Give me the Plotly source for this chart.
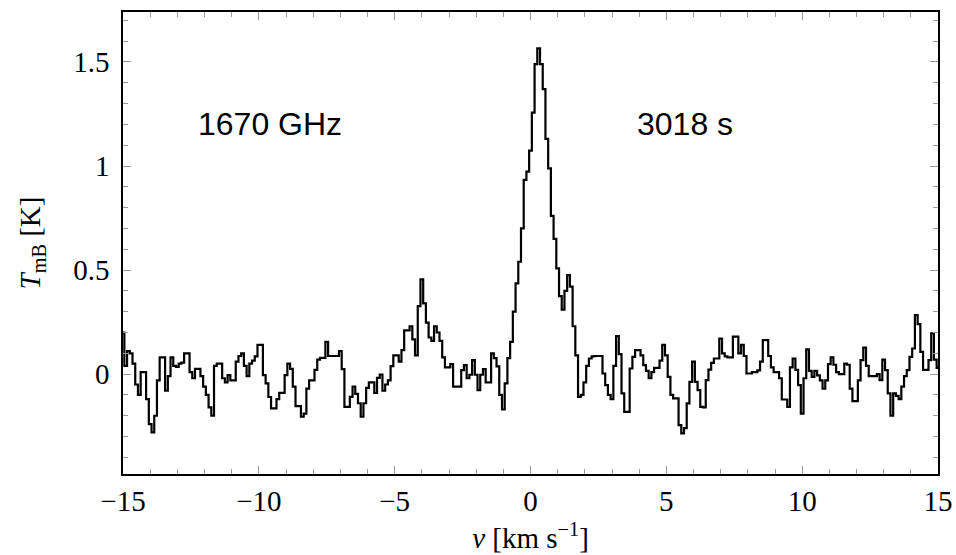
import numpy as np
import plotly.graph_objects as go

# Channel temperatures (K), 0.1 km/s channels from -15.0 to 15.0 km/s
seg_a = [0.20, 0.04, 0.11, 0.10, 0.05, -0.05, -0.10, 0.01, 0.01, -0.12,
         -0.24, -0.28, -0.20, -0.03, 0.08, 0.08, -0.08, -0.01, 0.08, 0.04,
         0.035, 0.05, 0.055, 0.10, 0.10, 0.01, -0.02, 0.025, 0.025, -0.01,
         -0.06, -0.10, -0.16, -0.20, 0.04, 0.05, 0.05, -0.02]
seg_b = [-0.04, -0.005, -0.03, -0.03, 0.06, 0.087, 0.10, 0.04, -0.01, 0.05,
         0.065, 0.085, 0.14, 0.14, -0.005, -0.045, -0.11, -0.165, -0.165, -0.12,
         -0.09, -0.09, -0.005, 0.05, 0.025, -0.06, -0.154, -0.154, -0.205, -0.19,
         -0.07, -0.03, -0.03, 0.02, 0.07, 0.078, 0.078, 0.155]
seg_c = [0.087, 0.087, 0.087, 0.087, 0.11, 0.024, -0.157, -0.157, -0.109, -0.06,
         -0.095, -0.14, -0.205, -0.14, -0.066, -0.04, -0.04, -0.09, -0.018, -0.002,
         -0.08, -0.05, -0.03, 0.038, 0.09, 0.09, 0.06, 0.115, 0.21, 0.21,
         0.23, 0.167, 0.09, 0.327, 0.455, 0.34, 0.247, 0.176]
seg_d = [0.16, 0.23, 0.20, 0.16, 0.08, 0.032, 0.032, 0.048, -0.06, -0.06,
         -0.06, 0.019, 0.043, -0.02, -0.003, 0.067, -0.003, -0.077, -0.003, 0.024,
         -0.04, -0.04, 0.10, 0.077, 0.037, -0.10, -0.17, -0.045, 0.077, 0.155,
         0.30, 0.436]
seg_e = [0.54, 0.70, 0.933, 0.973, 1.074, 1.256, 1.49, 1.565, 1.49, 1.369,
         1.13, 0.989, 0.76, 0.65, 0.508, 0.375, 0.31, 0.40, 0.476, 0.42,
         0.23, 0.09, -0.11, -0.10, -0.04, 0.04, 0.075, 0.085, 0.087, 0.087]
seg_f = [0.087, 0.003, -0.053, -0.10, -0.12, 0.04, 0.183, 0.096, -0.093, -0.181,
         -0.181, 0.027, 0.083, 0.115, 0.115, 0.09, 0.043, 0.016, -0.02, 0.01,
         0.03, 0.03, 0.065, 0.14, 0.09]
seg_g = [-0.013, -0.10, -0.117, -0.117, -0.245, -0.285, -0.26, -0.141, -0.037, 0.06,
         -0.037, -0.077, -0.157, -0.16, -0.029, 0.022, 0.054, 0.075, 0.075, 0.171,
         0.10, 0.085, 0.08, 0.08, 0.18, 0.18, 0.10, 0.14, 0.087, 0.003,
         0.003, 0.01, 0.01, 0.018, 0.06, 0.163, 0.163, 0.087]
seg_h = [0.032, 0.01, 0.01, -0.02, -0.122, -0.122, -0.157, 0.032, 0.075, 0.02,
         -0.053, -0.19, -0.02, 0.119, 0.016, -0.013, 0.016, -0.006, -0.03, -0.07,
         -0.03, 0.048, 0.08, 0.045, 0.01, 0.0, 0.0, 0.05, 0.045, -0.07,
         -0.13, -0.13, -0.03, 0.067, 0.127, 0.04]
seg_i = [-0.01, -0.01, -0.01, 0.0, -0.029, 0.07, 0.019, -0.093, -0.20, -0.093,
         -0.105, -0.12, -0.06, -0.01, 0.019, 0.083, 0.123, 0.284, 0.24, 0.107,
         0.02, 0.02, 0.067, 0.196, 0.07, 0.03]

tmb = seg_a + seg_b + seg_c + seg_d + seg_e + seg_f + seg_g + seg_h + seg_i
v_start = -15.0
v_step = 0.1
velocity = [round(v_start + v_step * i, 3) for i in range(len(tmb))]

x_ticks = [-15, -10, -5, 0, 5, 10, 15]
x_ticktext = ["\u221215", "\u221210", "\u22125", "0", "5", "10", "15"]
y_ticks = [0, 0.5, 1, 1.5]
y_ticktext = ["0", "0.5", "1", "1.5"]

label_left = "1670 GHz"
label_right = "3018 s"

serif = "Liberation Serif"
sans = "Liberation Sans"

fig = go.Figure()
fig.add_trace(go.Scatter(
    x=velocity, y=tmb, mode="lines",
    line=dict(color="black", width=2.2, shape="hvh"),
    hoverinfo="skip", showlegend=False,
))

fig.add_annotation(x=-9.6, y=1.2, text=label_left, showarrow=False,
                   font=dict(family=sans, size=32, color="black"))
fig.add_annotation(x=5.7, y=1.2, text=label_right, showarrow=False,
                   font=dict(family=sans, size=32, color="black"))

axis_common = dict(
    showgrid=False, zeroline=False, automargin=False,
    showline=True, linecolor="black", linewidth=1.5, mirror="ticks",
    ticks="inside", tickcolor="#9a9a9a", tickwidth=1,
    tickfont=dict(family=serif, size=29, color="black"),
)

fig.update_xaxes(
    range=[-15, 15], tickvals=x_ticks, ticktext=x_ticktext, ticklen=8,
    minor=dict(dtick=1, ticks="inside", ticklen=5, tickcolor="#9a9a9a"),
    title=dict(text="<i>v</i> [km s<sup>\u22121</sup>]",
               font=dict(family=serif, size=29, color="black"), standoff=12),
    **axis_common,
)
fig.update_yaxes(
    range=[-0.48, 1.74], tickvals=y_ticks, ticktext=y_ticktext, ticklen=8,
    minor=dict(dtick=0.1, ticks="inside", ticklen=5, tickcolor="#9a9a9a"),
    title=dict(text="<i>T</i><sub>mB</sub> [K]",
               font=dict(family=serif, size=29, color="black"), standoff=24),
    ticklabelstandoff=6,
    **axis_common,
)

fig.update_layout(
    width=956, height=555,
    margin=dict(l=123, r=18, t=12, b=81),
    plot_bgcolor="white", paper_bgcolor="white",
    font=dict(family=serif),
)

fig.write_html("out.html")
